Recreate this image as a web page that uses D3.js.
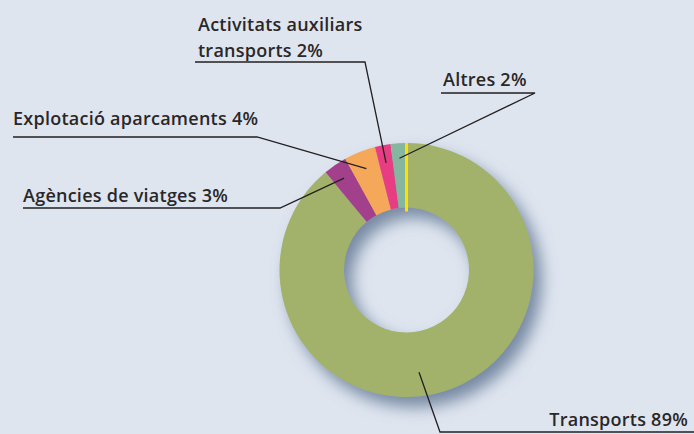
<!DOCTYPE html>
<html>
<head>
<meta charset="utf-8">
<script src="https://cdn.jsdelivr.net/npm/d3@7"></script>
<style>
  html, body { margin: 0; padding: 0; background: #dee5ef; }
  svg { display: block; }
</style>
</head>
<body>
<div id="chart"></div>
<script>
'use strict'

// data
const categories = ["Transports", "Agències de viatges", "Explotació aparcaments", "Activitats auxiliars transports", "Altres"]
const values = [89, 3, 4, 2, 2]
const labelLines = [
    ["Transports 89%"],
    ["Agències de viatges 3%"],
    ["Explotació aparcaments 4%"],
    ["Activitats auxiliars", "transports 2%"],
    ["Altres 2%"]
]
const colors = ["#a2b26b", "#a3418c", "#f6a85a", "#e83c82", "#86b5a0"]

// label layout: first baseline, underline, where the leader hits the slice
const layout = [
    {x: 688, y: 426, anchor: "end", ux1: 440, ux2: 694, uy: 432, frac: 0.54, r: 103},
    {x: 23, y: 202, anchor: "start", ux1: 23, ux2: 280, uy: 208, frac: 0.5, r: 111},
    {x: 13, y: 125, anchor: "start", ux1: 13, ux2: 257, uy: 137, frac: 0.5, r: 109},
    {x: 198, y: 31, anchor: "start", ux1: 195, ux2: 365, uy: 62, frac: 0.5, r: 109},
    {x: 443, y: 86, anchor: "start", ux1: 441, ux2: 535, uy: 93, frac: 0.5, r: 112}
]

const svgWidth = 694
const svgHeight = 434
const cx = 406.5, cy = 270
const outerR = 127, innerR = 62.5

const svg = d3.select("#chart").append("svg")
    .attr("width", svgWidth)
    .attr("height", svgHeight)

svg.append("rect")
    .attr("width", svgWidth)
    .attr("height", svgHeight)
    .attr("fill", "#dee5ef")

// shadow under the ring
const defs = svg.append("defs")
const filter = defs.append("filter")
    .attr("id", "shadow")
    .attr("x", "-30%").attr("y", "-30%")
    .attr("width", "160%").attr("height", "160%")
filter.append("feDropShadow")
    .attr("dx", 8).attr("dy", 10)
    .attr("stdDeviation", 8)
    .attr("flood-color", "#7688a2")
    .attr("flood-opacity", 1)

const data = categories.map((c, i) => ({name: c, value: values[i], i: i}))

const pie = d3.pie()
    .sort(null)
    .value(d => d.value)

const arcs = pie(data)

const arc = d3.arc()
    .innerRadius(innerR)
    .outerRadius(outerR)

const g = svg.append("g")
    .attr("transform", `translate(${cx},${cy})`)

const ring = g.append("g").attr("filter", "url(#shadow)")

ring.selectAll(".slice")
    .data(arcs)
    .enter()
    .append("path")
    .attr("class", "slice")
    .attr("d", arc)
    .attr("fill", d => colors[d.data.i])

// yellow separator at the start of the ring
g.append("line")
    .attr("x1", 0).attr("x2", 0)
    .attr("y1", -outerR).attr("y2", -innerR + 4)
    .attr("stroke", "#ffe000")
    .attr("stroke-width", 3)

// leader lines + underlines
const labels = svg.append("g")

arcs.forEach((d, i) => {
    const L = layout[i]
    const a = d.startAngle + L.frac * (d.endAngle - d.startAngle)
    const px = cx + Math.sin(a) * L.r
    const py = cy - Math.cos(a) * L.r
    const ex = L.anchor === "end" ? L.ux1 : L.ux2

    labels.append("polyline")
        .attr("points", `${L.anchor === "end" ? L.ux2 : L.ux1},${L.uy} ${ex},${L.uy} ${px},${py}`)
        .attr("fill", "none")
        .attr("stroke", "#231f20")
        .attr("stroke-width", 1.3)

    const t = labels.append("text")
        .attr("x", L.x)
        .attr("y", L.y)
        .attr("text-anchor", L.anchor)
        .attr("font-family", "'Open Sans', sans-serif")
        .attr("font-weight", 600)
        .attr("font-size", 18)
        .attr("letter-spacing", 0.25)
        .attr("fill", "#2a2728")

    labelLines[i].forEach((line, k) => {
        t.append("tspan")
            .attr("x", L.x)
            .attr("dy", k === 0 ? 0 : 26)
            .text(line)
    })
})
</script>
</body>
</html>
